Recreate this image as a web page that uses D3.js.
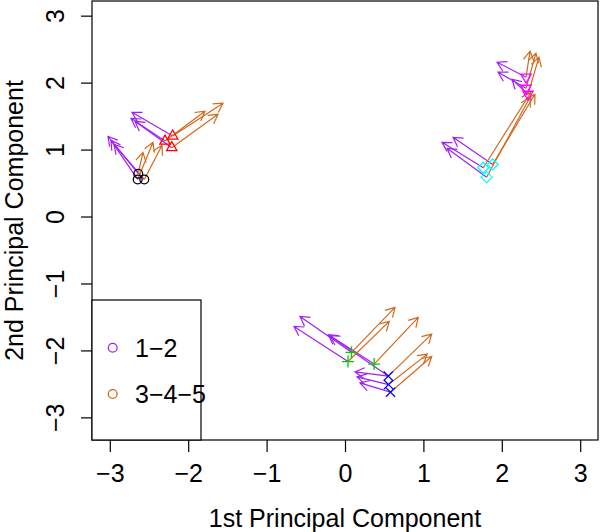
<!DOCTYPE html>
<html><head><meta charset="utf-8">
<script src="https://cdn.jsdelivr.net/npm/d3@7"></script>
<style>body{margin:0;background:#fff}svg{display:block}text{font-family:"Liberation Sans",Arial,sans-serif}</style>
</head><body><svg id="c" width="600" height="532"></svg>
<script>
// ---- data ----
const xTicks = [-3, -2, -1, 0, 1, 2, 3];
const yTicks = [-3, -2, -1, 0, 1, 2, 3];
const seriesLabels = ["1\u22122", "3\u22124\u22125"];
// point groups (1..6 -> R pch/col 1..6)
const pointGroup = [1,1,1, 2,2,2, 3,3,3, 4,4,4, 5,5,5, 6,6,6];
const pointX = [-2.637,-2.644,-2.560, -2.296,-2.198,-2.210, 0.083,0.038,0.372, 0.552,0.555,0.580, 1.884,1.764,1.807, 2.309,2.309,2.334];
const pointY = [0.639,0.554,0.554, 1.127,1.202,1.028, -2.028,-2.166,-2.204, -2.383,-2.510,-2.624, 0.778,0.729,0.588, 2.081,1.916,1.826];
// arrows: series index (0 = 1-2, 1 = 3-4-5), start point index, end coordinates
const arrowSeries = [0,0,0,0,0,0,0,0,0,0,0,0,0,0,0,0,0,0,0, 1,1,1,1,1,1,1,1,1,1,1,1,1,1,1,1,1,1];
const arrowFrom   = [0,1,2,4,3,5,6,7,8,9,9,10,11,12,13,14,15,16,17, 0,1,2,4,3,5,6,7,8,9,10,11,12,13,14,15,16,17];
const arrowToX = [-3.023,-2.985,-2.946,-2.717,-2.730,-2.679,-0.574,-0.651,-0.191,-0.213,0.128,0.153,0.191,1.378,1.237,1.301,1.939,1.952,2.130,
                  -2.577,-2.449,-2.334,-1.556,-1.786,-1.620,0.638,0.565,0.935,1.106,1.050,1.106,2.423,2.372,2.360,2.360,2.436,2.474];
const arrowToY = [1.198,1.138,1.078,1.557,1.467,1.422,-1.493,-1.642,-1.781,-1.766,-2.320,-2.395,-2.485,1.183,1.108,1.018,2.305,2.156,2.051,
                  0.958,1.108,1.063,1.692,1.572,1.527,-1.358,-1.567,-1.507,-1.756,-2.055,-2.091,1.826,1.856,1.781,2.470,2.440,2.380];

// ---- styles ----
const seriesColor = ["#A020F0", "#D2691E"];
const groupColor = {1:"#000000", 2:"#FF0000", 3:"#00CD00", 4:"#0000FF", 5:"#00FFFF", 6:"#FF00FF"};
const fmt = d => (d < 0 ? "\u2212" + Math.abs(d) : String(d));
const FS = 25;

const svg = d3.select("#c");
const L = 92, R = 598, T = 1, B = 440;
const x = d3.scaleLinear().domain([-3.227, 3.227]).range([L, R]);
const y = d3.scaleLinear().domain([-3.338, 3.219]).range([B, T]);

// arrows
const ag = svg.append("g").attr("fill", "none").attr("stroke-width", 1.2);
arrowSeries.forEach((s, i) => {
  const p = arrowFrom[i];
  const x0 = x(pointX[p]), y0 = y(pointY[p]);
  const x1 = x(arrowToX[i]), y1 = y(arrowToY[i]);
  const ang = Math.atan2(y1 - y0, x1 - x0);
  const len = 10.5, a = Math.PI / 6;
  const h1 = [x1 - len * Math.cos(ang - a), y1 - len * Math.sin(ang - a)];
  const h2 = [x1 - len * Math.cos(ang + a), y1 - len * Math.sin(ang + a)];
  ag.append("path")
    .attr("d", `M${x0},${y0}L${x1},${y1}M${h1[0]},${h1[1]}L${x1},${y1}L${h2[0]},${h2[1]}`)
    .attr("stroke", seriesColor[s]);
});

// points
const pg = svg.append("g").attr("fill", "none").attr("stroke-width", 1.3);
pointGroup.forEach((g, i) => {
  const cx = x(pointX[i]), cy = y(pointY[i]), c = groupColor[g];
  let d;
  if (g === 1) { pg.append("circle").attr("cx", cx).attr("cy", cy).attr("r", 4.4).attr("stroke", c); return; }
  if (g === 2) d = `M${cx},${cy - 6}L${cx + 5.2},${cy + 3}L${cx - 5.2},${cy + 3}Z`;
  if (g === 6) d = `M${cx},${cy + 6}L${cx + 5.2},${cy - 3}L${cx - 5.2},${cy - 3}Z`;
  if (g === 3) d = `M${cx - 6},${cy}L${cx + 6},${cy}M${cx},${cy - 6}L${cx},${cy + 6}`;
  if (g === 4) d = `M${cx - 4.6},${cy - 4.6}L${cx + 4.6},${cy + 4.6}M${cx - 4.6},${cy + 4.6}L${cx + 4.6},${cy - 4.6}`;
  if (g === 5) d = `M${cx},${cy - 5.5}L${cx + 5.5},${cy}L${cx},${cy + 5.5}L${cx - 5.5},${cy}Z`;
  pg.append("path").attr("d", d).attr("stroke", c);
});

// box
svg.append("rect").attr("x", L).attr("y", T).attr("width", R - L).attr("height", B - T)
  .attr("fill", "none").attr("stroke", "#000").attr("stroke-width", 1.2);

// axes
const xa = svg.append("g").attr("transform", `translate(0,${B})`)
  .call(d3.axisBottom(x).tickValues(xTicks).tickSize(12).tickFormat(fmt));
xa.select(".domain").remove();
xa.selectAll("line").attr("stroke", "#000").attr("stroke-width", 1.2);
xa.selectAll("text").attr("y", 42).attr("dy", 0).attr("font-size", FS).attr("fill", "#000")
  .style("font-family", '"Liberation Sans",Arial,sans-serif');

const ya = svg.append("g").attr("transform", `translate(${L},0)`)
  .call(d3.axisLeft(y).tickValues(yTicks).tickSize(11).tickFormat(fmt));
ya.select(".domain").remove();
ya.selectAll("line").attr("stroke", "#000").attr("stroke-width", 1.2);
ya.selectAll("text").attr("x", 0).attr("dy", 0).attr("text-anchor", "middle")
  .attr("transform", "translate(-28.5,0) rotate(-90)").attr("font-size", FS).attr("fill", "#000")
  .style("font-family", '"Liberation Sans",Arial,sans-serif');

// axis titles
svg.append("text").attr("x", (L + R) / 2).attr("y", 527).attr("text-anchor", "middle")
  .attr("font-size", FS).text("1st Principal Component");
svg.append("text").attr("transform", `translate(22.5,${(T + B) / 2}) rotate(-90)`).attr("text-anchor", "middle")
  .attr("font-size", FS).text("2nd Principal Component");

// legend
svg.append("rect").attr("x", L).attr("y", 300).attr("width", 109).attr("height", B - 300)
  .attr("fill", "#fff").attr("stroke", "#000").attr("stroke-width", 1.2);
const legY = [347.7, 394];
seriesLabels.forEach((lab, i) => {
  svg.append("circle").attr("cx", 112.7).attr("cy", legY[i]).attr("r", 4.4)
    .attr("fill", "none").attr("stroke", seriesColor[i]).attr("stroke-width", 1.3);
  svg.append("text").attr("x", 135).attr("y", legY[i] + 9).attr("font-size", FS).text(lab);
});
</script></body></html>
